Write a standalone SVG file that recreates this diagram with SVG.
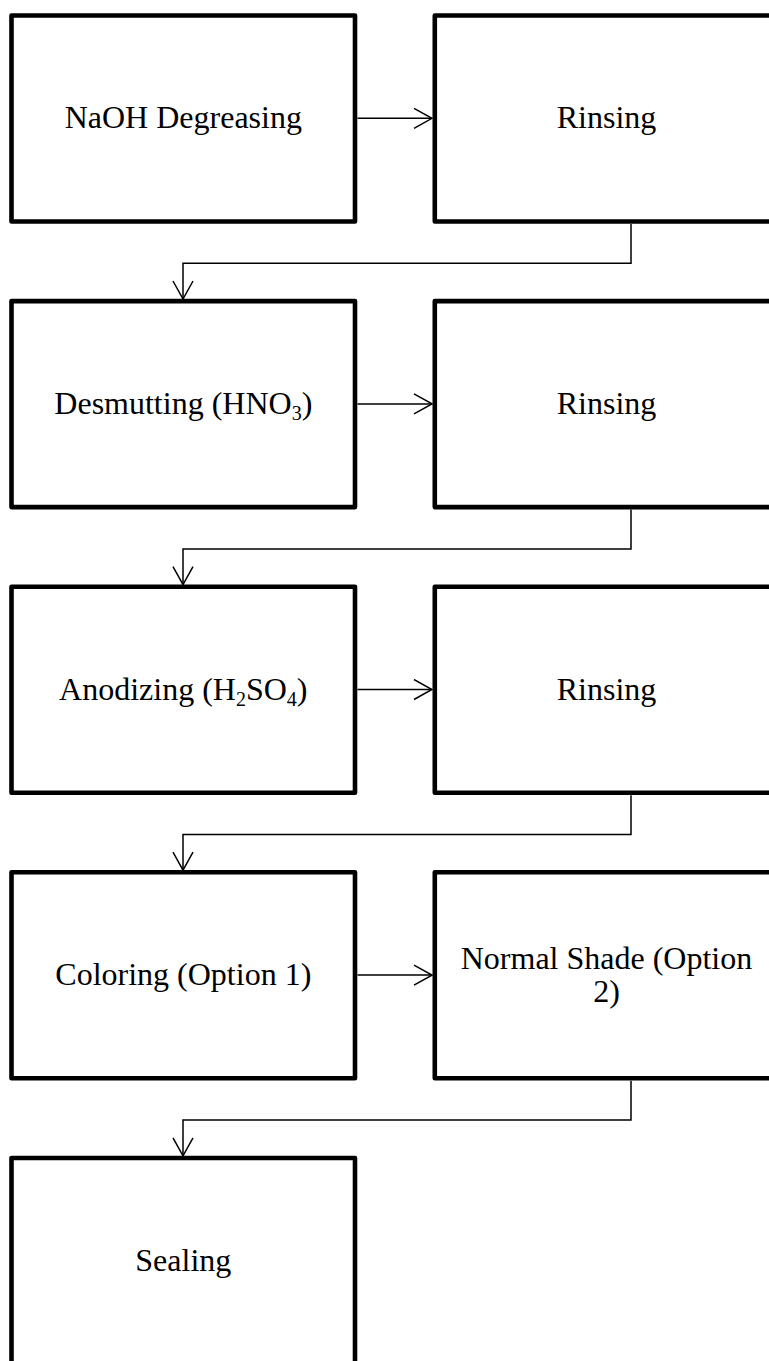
<svg xmlns="http://www.w3.org/2000/svg" width="769" height="1361" viewBox="0 0 769 1361">
<style>
.box{fill:#fff;stroke:#000;stroke-width:4.6;stroke-linejoin:round}
.lbl{font-family:"Liberation Serif","Times New Roman",serif;font-size:32px;fill:#000;text-anchor:middle}
.sub{font-size:20px}
.conn{fill:none;stroke:#000;stroke-width:1.5}
</style>
<defs>
<marker id="arr" markerUnits="userSpaceOnUse" viewBox="0 0 20 22" refX="19" refY="11" markerWidth="20" markerHeight="22" orient="auto">
<path d="M1,1 L19,11 L1,21" fill="none" stroke="#000" stroke-width="1.5"/>
</marker>
</defs>
<rect width="769" height="1361" fill="#fff"/>
<g id="n1"><rect class="box" x="11.5" y="15.5" width="343.5" height="206"/><text class="lbl" x="183.3" y="128.3">NaOH Degreasing</text></g>
<g id="n2"><rect class="box" x="434.8" y="15.5" width="392" height="206"/><text class="lbl" x="606.5" y="128.3">Rinsing</text></g>
<g id="n3"><rect class="box" x="11.5" y="301.1" width="343.5" height="206"/><text class="lbl" x="183.3" y="413.9">Desmutting (HNO<tspan class="sub" dy="6">3</tspan><tspan dy="-6">)</tspan></text></g>
<g id="n4"><rect class="box" x="434.8" y="301.1" width="392" height="206"/><text class="lbl" x="606.5" y="413.9">Rinsing</text></g>
<g id="n5"><rect class="box" x="11.5" y="586.7" width="343.5" height="206"/><text class="lbl" x="183.3" y="699.5">Anodizing (H<tspan class="sub" dy="6">2</tspan><tspan dy="-6">SO</tspan><tspan class="sub" dy="6">4</tspan><tspan dy="-6">)</tspan></text></g>
<g id="n6"><rect class="box" x="434.8" y="586.7" width="392" height="206"/><text class="lbl" x="606.5" y="699.5">Rinsing</text></g>
<g id="n7"><rect class="box" x="11.5" y="872.3" width="343.5" height="206"/><text class="lbl" x="183.3" y="984.5">Coloring (Option 1)</text></g>
<g id="n8"><rect class="box" x="434.8" y="872.3" width="392" height="206"/><text class="lbl" x="606.5" y="968.5">Normal Shade (Option</text><text class="lbl" x="606.5" y="1001.8">2)</text></g>
<g id="n9"><rect class="box" x="11.5" y="1158" width="343.5" height="206"/><text class="lbl" x="183.3" y="1270.5">Sealing</text></g>
<g id="connectors">
<path class="conn" d="M357.5,118.3 H432" marker-end="url(#arr)"/>
<path class="conn" d="M631,224 V263.3 H183 V299" marker-end="url(#arr)"/>
<path class="conn" d="M357.5,403.9 H432" marker-end="url(#arr)"/>
<path class="conn" d="M631,509.6 V548.9 H183 V584.6" marker-end="url(#arr)"/>
<path class="conn" d="M357.5,689.5 H432" marker-end="url(#arr)"/>
<path class="conn" d="M631,795.2 V834.5 H183 V870.2" marker-end="url(#arr)"/>
<path class="conn" d="M357.5,975.1 H432" marker-end="url(#arr)"/>
<path class="conn" d="M631,1080.8 V1120.1 H183 V1155.8" marker-end="url(#arr)"/>
</g>
</svg>
